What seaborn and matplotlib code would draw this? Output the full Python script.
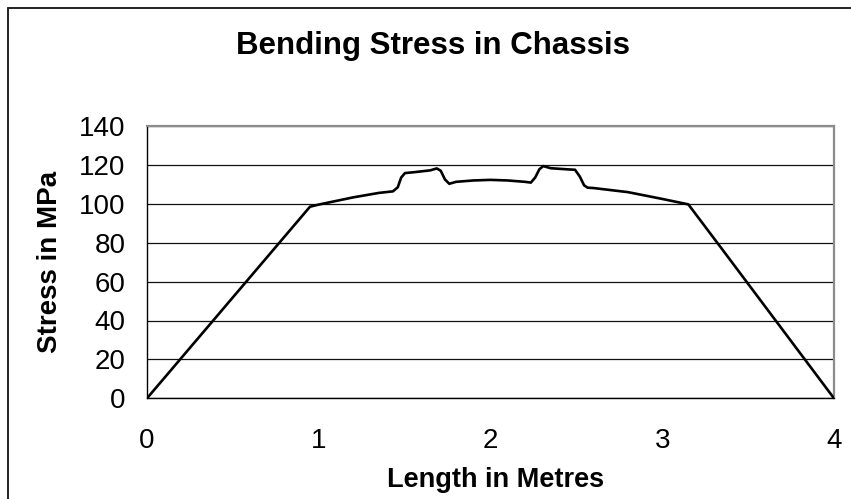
import matplotlib
matplotlib.use("Agg")
import matplotlib.pyplot as plt
import seaborn as sns
import pandas as pd
from matplotlib.lines import Line2D

# Bending stress along the chassis length
length_m = [0.0, 0.949, 1.0, 1.2, 1.35, 1.432, 1.46, 1.48, 1.502, 1.55, 1.65, 1.687,
            1.71, 1.735, 1.76, 1.80, 1.90, 2.0, 2.10, 2.20, 2.235, 2.26, 2.285, 2.307,
            2.35, 2.45, 2.492, 2.52, 2.545, 2.565, 2.60, 2.80, 3.0, 3.152, 3.35, 4.0]
stress_mpa = [0.0, 98.5, 99.6, 103.3, 105.6, 106.4, 108.5, 113.5, 115.8, 116.2, 117.2, 118.2,
              117.0, 112.5, 110.3, 111.3, 112.0, 112.3, 112.0, 111.3, 110.9, 113.5, 117.8, 119.4,
              118.3, 117.7, 117.5, 114.0, 109.5, 108.3, 108.1, 106.0, 102.5, 99.7, 76.5, 0.0]

x_ticks = [0, 1, 2, 3, 4]
y_ticks = [0, 20, 40, 60, 80, 100, 120, 140]

title = "Bending Stress in Chassis"
x_label = "Length in Metres"
y_label = "Stress in MPa"

df = pd.DataFrame({"length": length_m, "stress": stress_mpa})

sns.set_theme(style="white")
plt.rcParams["font.family"] = ["Liberation Sans", "DejaVu Sans"]
plt.rcParams["text.color"] = "black"
plt.rcParams["xtick.color"] = "black"
plt.rcParams["ytick.color"] = "black"

fig = plt.figure(figsize=(8.51, 4.99), dpi=100)
ax = fig.add_axes([147 / 851, 1 - 398.3 / 499, (834 - 147) / 851, (398.3 - 126) / 499])

sns.lineplot(data=df, x="length", y="stress", sort=False, color="black",
             linewidth=1.9, ax=ax, zorder=3)

ax.set_xlim(0, 4)
ax.set_ylim(0, 140)
ax.set_xticks(x_ticks)
ax.set_yticks(y_ticks)
ax.set_xticklabels([str(v) for v in x_ticks])
ax.set_yticklabels([str(v) for v in y_ticks])
ax.tick_params(axis="both", labelsize=20, colors="black", labelcolor="black",
               direction="out", length=6.5, width=0.9)
ax.tick_params(axis="x", pad=15)
ax.tick_params(axis="y", pad=9)

ax.yaxis.grid(True, color="#111111", linewidth=0.9)
ax.xaxis.grid(False)
ax.set_axisbelow(True)

for side in ("left", "bottom"):
    ax.spines[side].set_color("black")
    ax.spines[side].set_linewidth(1.0)
for side in ("top", "right"):
    ax.spines[side].set_color("#8c8c8c")
    ax.spines[side].set_linewidth(1.6)

ax.set_xlabel("")
ax.set_ylabel("")

fig.text(433.5 / 851, 1 - 54.3 / 499, title, ha="center", va="baseline",
         fontsize=22.5, fontweight="bold", color="black")
fig.text(496 / 851, 1 - 486.7 / 499, x_label, ha="center", va="baseline",
         fontsize=19.5, fontweight="bold", color="black")
fig.text(57 / 851, 1 - 262 / 499, y_label, ha="center", va="baseline",
         rotation=90, rotation_mode="anchor", fontsize=20, fontweight="bold",
         color="black")

# Outer chart frame along the left and top edges
fig.add_artist(Line2D([7.5 / 851, 7.5 / 851], [0, 1 - 8 / 499], transform=fig.transFigure,
                      color="#222222", linewidth=1.4))
fig.add_artist(Line2D([7.5 / 851, 1], [1 - 8 / 499, 1 - 8 / 499], transform=fig.transFigure,
                      color="#222222", linewidth=1.4))

fig.savefig("out.png", dpi=100, facecolor="white")
